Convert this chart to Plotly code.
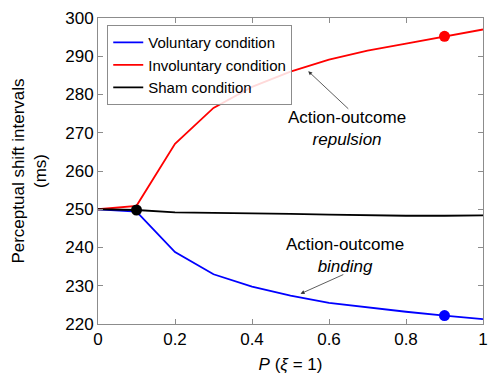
import plotly.graph_objects as go

x_vals = [0, 0.1, 0.2, 0.3, 0.4, 0.5, 0.6, 0.7, 0.8, 0.9, 1.0]
voluntary = [250, 249.4, 238.8, 233.0, 229.8, 227.4, 225.5, 224.3, 223.2, 222.2, 221.3]
involuntary = [250, 250.9, 267.1, 276.5, 282.0, 286.0, 289.1, 291.5, 293.3, 295.2, 297.0]
sham = [250, 249.8, 249.2, 249.1, 249.0, 248.8, 248.6, 248.4, 248.3, 248.3, 248.4]

markers_x = [0.9, 0.9, 0.1]
markers_y = [222.2, 295.2, 249.8]
markers_c = ["blue", "red", "black"]

x_ticks = [0, 0.2, 0.4, 0.6, 0.8, 1]
x_labels = ["0", "0.2", "0.4", "0.6", "0.8", "1"]
y_ticks = [220, 230, 240, 250, 260, 270, 280, 290, 300]

FONT = "Liberation Sans, Arial, Helvetica, sans-serif"

fig = go.Figure()
fig.add_trace(go.Scatter(x=x_vals, y=voluntary, mode="lines", name="Voluntary condition",
                         line=dict(color="blue", width=1.8)))
fig.add_trace(go.Scatter(x=x_vals, y=involuntary, mode="lines", name="Involuntary condition",
                         line=dict(color="red", width=1.8)))
fig.add_trace(go.Scatter(x=x_vals, y=sham, mode="lines", name="Sham condition",
                         line=dict(color="black", width=1.8)))
fig.add_trace(go.Scatter(x=markers_x, y=markers_y, mode="markers", showlegend=False,
                         marker=dict(color=markers_c, size=11)))

axis_common = dict(showgrid=False, zeroline=False, showline=True, linecolor="#8c8c8c",
                   linewidth=1, mirror="ticks", ticks="inside", ticklen=5,
                   tickcolor="#8c8c8c", tickfont=dict(size=17, color="black", family=FONT),
                   ticklabeloverflow="allow")

fig.update_xaxes(range=[0, 1], tickvals=x_ticks, ticktext=x_labels,
                 title=dict(text="<i>P</i> (<i>ξ</i> = 1)", font=dict(size=17, family=FONT, color="black"),
                            standoff=10),
                 **axis_common)
fig.update_yaxes(range=[220, 300], tickvals=y_ticks,
                 title=dict(text="Perceptual shift intervals<br>(ms)",
                            font=dict(size=17, family=FONT, color="black"), standoff=14),
                 **axis_common)

ann_font = dict(size=17, family=FONT, color="black")
fig.add_annotation(x=0.646, y=271.2, xref="x", yref="y", text="Action-outcome<br><i>repulsion</i>",
                   showarrow=False, font=ann_font, align="center")
fig.add_annotation(x=0.641, y=238.0, xref="x", yref="y", text="Action-outcome<br><i>binding</i>",
                   showarrow=False, font=ann_font, align="center")
fig.add_annotation(x=0.546, y=286.1, ax=0.654, ay=275.9, xref="x", yref="y", axref="x", ayref="y",
                   text="", showarrow=True, arrowhead=2, arrowsize=1, arrowwidth=0.8,
                   arrowcolor="#333333")
fig.add_annotation(x=0.526, y=227.9, ax=0.641, ay=233.1, xref="x", yref="y", axref="x", ayref="y",
                   text="", showarrow=True, arrowhead=2, arrowsize=1, arrowwidth=0.8,
                   arrowcolor="#333333")

fig.update_layout(
    width=491, height=374,
    margin=dict(l=98, r=3, t=18, b=50),
    plot_bgcolor="white", paper_bgcolor="white",
    font=dict(family=FONT, color="black"),
    legend=dict(x=0.024, y=0.977, xanchor="left", yanchor="top",
                bgcolor="rgba(255,255,255,0.85)", bordercolor="#8c8c8c", borderwidth=1,
                font=dict(size=15, family=FONT, color="black"),
                itemwidth=30, tracegroupgap=0),
)

fig.write_html("out.html")
